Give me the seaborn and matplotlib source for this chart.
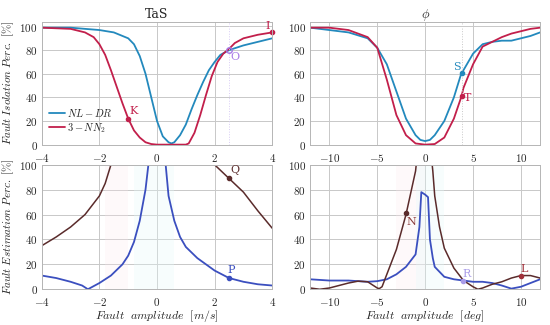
import numpy as np
import pandas as pd
import matplotlib
matplotlib.use("Agg")
import matplotlib.pyplot as plt
import seaborn as sns
from matplotlib.ticker import FuncFormatter

# ---- data ----
# TaS, fault isolation
tas_iso_x_blue = [-4, -3, -2.5, -2, -1.5, -1, -0.8, -0.6, -0.4, -0.2, 0, 0.2, 0.4, 0.5, 0.6, 0.8, 1, 1.2,
                  1.4, 1.6, 1.8, 2, 2.2, 2.5, 3, 3.5, 4]
tas_iso_blue = [99, 99, 98, 97, 95, 90, 85, 75, 60, 40, 20, 7, 2, 1, 2, 8, 17, 30,
                42, 53, 63, 70, 76, 80, 84, 87, 90]
tas_iso_x_red = [-4, -3, -2.5, -2.2, -2, -1.8, -1.6, -1.4, -1.2, -1, -0.8, -0.6, -0.4, -0.2, 0, 0.5, 1, 1.1,
                 1.3, 1.5, 1.7, 1.9, 2.1, 2.3, 2.5, 2.7, 3, 3.5, 4]
tas_iso_red = [99, 98, 95, 91, 85, 76, 63, 49, 35, 22, 12, 6, 2, 0.5, 0, 0, 0, 1,
               10, 25, 42, 58, 70, 77, 81, 86, 90, 93, 95]

# phi, fault isolation
phi_iso_x_blue = [-12, -10, -8, -6, -5, -4, -3, -2, -1, -0.5, 0, 0.5, 1, 2, 3, 3.8, 4, 5, 6, 7, 8, 9, 10, 11, 12]
phi_iso_blue = [99, 97, 95, 90, 82, 68, 45, 22, 8, 4, 3, 4, 8, 20, 40, 61, 63, 77, 85, 87, 88, 88, 90, 92, 95]
phi_iso_x_red = [-12, -10, -8, -6, -5, -4, -3, -2, -1, 0, 1, 2, 3, 3.8, 4, 5, 6, 7, 8, 9, 10, 11, 12]
phi_iso_red = [99, 99, 97, 91, 82, 55, 25, 8, 1, 0, 0.5, 6, 22, 41, 48, 68, 83, 87, 91, 94, 96, 98, 99]

# TaS, fault estimation
tas_est_x_brown = [-4, -3.5, -3, -2.5, -2, -1.8, -1.6, -1.4, -1.0, 1.0, 1.4, 1.8, 2, 2.5, 3, 3.5, 4]
tas_est_brown = [35, 42, 50, 60, 75, 85, 100, 115, 160, 160, 125, 105, 100, 89, 78, 63, 49]
tas_est_x_blue = [-4, -3.5, -3, -2.6, -2.4, -2, -1.6, -1.2, -1, -0.8, -0.6, -0.4, -0.3, -0.2,
                  0.2, 0.3, 0.4, 0.6, 0.8, 1, 1.4, 2, 2.5, 3, 3.5, 4]
tas_est_blue = [11, 9, 6, 3, 0, 5, 11, 20, 27, 38, 55, 80, 100, 130,
                130, 100, 75, 55, 42, 34, 25, 15, 9, 6, 4, 3]

# phi, fault estimation
phi_est_x_blue = [-12, -10, -8, -6, -5, -4, -3, -2, -1, -0.6, -0.4, 0, 0.3, 0.5, 0.8, 1, 2, 3, 4, 5, 6, 7,
                  8, 9, 10, 11, 12]
phi_est_blue = [8, 7, 7, 6, 6.5, 8, 12, 18, 28, 50, 78, 76, 74, 40, 25, 18, 10, 8, 7, 6, 6, 5,
                3, 0.5, 2, 5, 8]
phi_est_x_brown = [-12, -11, -10, -9, -8, -7, -6, -5, -4.8, -4.5, -4, -3, -2, -1, -0.8, 0.6, 0.8, 1, 1.5,
                   2, 3, 4, 5, 5.5, 6, 7, 8, 9, 10, 11, 12]
phi_est_brown = [1, 0, 1, 3, 5, 6.5, 6, 1, 0.5, 2, 12, 32, 60, 95, 110, 110, 95, 75, 50,
                 33, 17, 7, 2, 0, 1, 4, 6, 9, 11, 11, 9]

colors = {
    "blue": "#2389bd",
    "red": "#c21f4b",
    "blue2": "#3b4fbf",
    "brown": "#5a2b2b",
    "purple": "#a77be6",
    "lpurple": "#a99be8",
}

sns.set_style("whitegrid", {"grid.color": "#c8c8c8", "axes.edgecolor": "#b0b0b0"})
plt.rcParams["font.family"] = ["DejaVu Serif"]
plt.rcParams["mathtext.fontset"] = "cm"

fig = plt.figure(figsize=(5.5, 3.25), dpi=100)
ax_tl = fig.add_axes([0.076, 0.555, 0.419, 0.378])
ax_tr = fig.add_axes([0.564, 0.555, 0.418, 0.378])
ax_bl = fig.add_axes([0.076, 0.11, 0.419, 0.383])
ax_br = fig.add_axes([0.564, 0.11, 0.418, 0.383])

mfmt = FuncFormatter(lambda v, p: r"$%g$" % v)


def draw(ax, xs, ys, color, label=None, lw=1.3):
    df = pd.DataFrame({"x": xs, "y": ys})
    sns.lineplot(data=df, x="x", y="y", ax=ax, color=color, lw=lw, label=label, legend=False)


# top left
draw(ax_tl, tas_iso_x_blue, tas_iso_blue, colors["blue"], r"$NL-DR$")
draw(ax_tl, tas_iso_x_red, tas_iso_red, colors["red"], r"$3-NN_2$")
ax_tl.axvline(2.5, color="#d8ccf4", lw=0.7, ls=":")
ax_tl.plot(-1, 22, "o", ms=3, color=colors["red"])
ax_tl.text(-0.95, 26, "K", color=colors["red"], fontsize=8)
ax_tl.plot(2.5, 80, "o", ms=4, mfc="none", mec=colors["purple"])
ax_tl.text(2.55, 72, "O", color=colors["purple"], fontsize=8)
ax_tl.plot(4, 95, "o", ms=3, color=colors["red"], clip_on=False)
ax_tl.text(3.75, 98, "I", color=colors["red"], fontsize=8)
ax_tl.set_xlim(-4, 4)
ax_tl.set_ylim(0, 104)
ax_tl.set_xticks([-4, -2, 0, 2, 4])
ax_tl.set_title("TaS", fontsize=9, pad=3)
ax_tl.set_ylabel(r"$Fault\ Isolation\ Perc.\ [\%]$", fontsize=8)
ax_tl.legend(loc="lower left", bbox_to_anchor=(0.0, 0.02), frameon=False, fontsize=7.5,
             handlelength=1.5, handletextpad=0.2, labelspacing=0.2, borderpad=0.2)

# top right
draw(ax_tr, phi_iso_x_blue, phi_iso_blue, colors["blue"])
draw(ax_tr, phi_iso_x_red, phi_iso_red, colors["red"])
ax_tr.axvline(3.8, color="#c8c8c8", lw=0.7, ls=":")
ax_tr.plot(3.8, 61, "o", ms=3, color=colors["blue"])
ax_tr.text(2.9, 63, "S", color=colors["blue"], fontsize=8)
ax_tr.plot(3.8, 41, "o", ms=3, color=colors["red"])
ax_tr.text(4.0, 37, "T", color=colors["red"], fontsize=8)
ax_tr.set_xlim(-12, 12)
ax_tr.set_ylim(0, 104)
ax_tr.set_xticks([-10, -5, 0, 5, 10])
ax_tr.set_title(r"$\phi$", fontsize=9, pad=3)

# bottom left
ax_bl.fill_between([-1.8, -1.0], 0, 100, color="#fde8ee", alpha=0.25, lw=0)
ax_bl.fill_between([-0.8, 0.6], 0, 100, color="#e6fbfb", alpha=0.3, lw=0)
draw(ax_bl, tas_est_x_brown, tas_est_brown, colors["brown"], lw=1.1)
draw(ax_bl, tas_est_x_blue, tas_est_blue, colors["blue2"])
ax_bl.plot(2.5, 9, "o", ms=3, color=colors["blue2"])
ax_bl.text(2.45, 13, "P", color=colors["blue2"], fontsize=8)
ax_bl.plot(2.5, 89, "o", ms=3, color=colors["brown"])
ax_bl.text(2.55, 93, "Q", color=colors["brown"], fontsize=8)
ax_bl.set_xlim(-4, 4)
ax_bl.set_ylim(0, 100)
ax_bl.set_xticks([-4, -2, 0, 2, 4])
ax_bl.set_ylabel(r"$Fault\ Estimation\ Perc.\ [\%]$", fontsize=8)
ax_bl.set_xlabel(r"$Fault\ \ amplitude\ \ [m/s]$", fontsize=8.5, labelpad=0)

# bottom right
ax_br.fill_between([-3, 0], 0, 100, color="#fde8ee", alpha=0.25, lw=0)
ax_br.fill_between([-1, 2], 0, 100, color="#e6fbfb", alpha=0.3, lw=0)
draw(ax_br, phi_est_x_blue, phi_est_blue, colors["blue2"])
draw(ax_br, phi_est_x_brown, phi_est_brown, colors["brown"], lw=1.1)
ax_br.plot(-2, 61, "o", ms=3, color=colors["brown"])
ax_br.text(-1.9, 52, "N", color="#8a3a3a", fontsize=8)
ax_br.plot(4, 7, "o", ms=3, color=colors["lpurple"])
ax_br.text(3.9, 10, "R", color=colors["lpurple"], fontsize=8)
ax_br.plot(10, 11, "o", ms=3, color="#a0303a")
ax_br.text(9.9, 14, "L", color="#a0303a", fontsize=8)
ax_br.set_xlim(-12, 12)
ax_br.set_ylim(0, 100)
ax_br.set_xticks([-10, -5, 0, 5, 10])
ax_br.set_xlabel(r"$Fault\ \ amplitude\ \ [deg]$", fontsize=8.5, labelpad=0)

for ax in (ax_tl, ax_tr, ax_bl, ax_br):
    ax.set_yticks([0, 20, 40, 60, 80, 100])
    ax.xaxis.set_major_formatter(mfmt)
    ax.yaxis.set_major_formatter(mfmt)
    ax.tick_params(labelsize=8, length=0)
    ax.tick_params(axis="x", pad=5)
    ax.tick_params(axis="y", pad=3)
    ax.grid(True, color="#c8c8c8", lw=0.7)
    for s in ax.spines.values():
        s.set_color("#b5b5b5")
        s.set_linewidth(0.7)
for ax in (ax_tr, ax_br):
    ax.set_ylabel("")
for ax in (ax_tl, ax_tr):
    ax.set_xlabel("")
ax_tl.yaxis.set_label_coords(-0.11, 0.5)
ax_bl.yaxis.set_label_coords(-0.11, 0.5)

fig.savefig("out.png", dpi=100)
